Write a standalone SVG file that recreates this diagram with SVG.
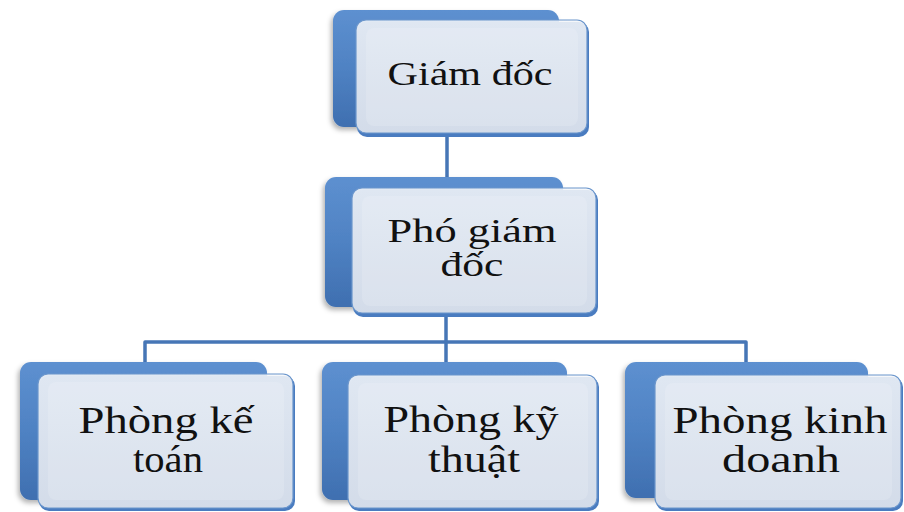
<svg xmlns="http://www.w3.org/2000/svg" width="904" height="512" viewBox="0 0 904 512">
<defs>
<linearGradient id="gBack" x1="0" y1="0" x2="0" y2="1">
<stop offset="0" stop-color="#5d90d0"/>
<stop offset="0.5" stop-color="#4f82c3"/>
<stop offset="1" stop-color="#3f6fb0"/>
</linearGradient>
<linearGradient id="gFront" x1="0" y1="0" x2="0" y2="1">
<stop offset="0" stop-color="#f4f6f9"/>
<stop offset="1" stop-color="#e6e9ef"/>
</linearGradient>
<filter id="sh" x="-10%" y="-10%" width="120%" height="125%">
<feDropShadow dx="-2" dy="3" stdDeviation="2.5" flood-color="#000" flood-opacity="0.3"/>
</filter>
</defs>
<style>
.back{fill:url(#gBack);filter:url(#sh)}
.edge{fill:#4a7cc0}
.front{fill:url(#gFront);fill-opacity:0.88;stroke:#6b96cc;stroke-width:1.2}
.gloss{fill:#ffffff;fill-opacity:0.15}
.t{font-family:"Liberation Serif","Times New Roman",serif;fill:#111;text-anchor:middle}
.con{fill:none;stroke:#4676b6;stroke-width:3.5;stroke-linejoin:round}
</style>
<g id="connectors">
<line class="con" x1="447" y1="134" x2="447" y2="190"/>
<line class="con" x1="446" y1="314" x2="446" y2="364"/>
<path class="con" d="M145,364 V342 H746 V364"/>
</g>
<g id="node-giam-doc">
<rect class="back" x="333" y="10" width="226" height="117" rx="11"/>
<rect class="edge" x="357" y="22" width="232" height="115" rx="10"/>
<rect class="front" x="356" y="20" width="231" height="113" rx="10"/>
<rect class="gloss" x="366" y="28" width="212" height="98" rx="8"/>
<text class="t" x="470" y="85" font-size="33" textLength="165" lengthAdjust="spacingAndGlyphs">Giám đốc</text>
</g>
<g id="node-pho-giam-doc">
<rect class="back" x="325" y="177" width="238" height="130" rx="11"/>
<rect class="edge" x="353" y="190" width="245" height="127" rx="10"/>
<rect class="front" x="352" y="188" width="244" height="125" rx="10"/>
<rect class="gloss" x="362" y="196" width="225" height="110" rx="8"/>
<text class="t" x="472" y="242" font-size="33" textLength="169" lengthAdjust="spacingAndGlyphs">Phó giám</text>
<text class="t" x="472" y="276" font-size="33" textLength="63" lengthAdjust="spacingAndGlyphs">đốc</text>
</g>
<g id="node-ke-toan">
<rect class="back" x="20" y="362" width="247" height="138" rx="11"/>
<rect class="edge" x="39" y="376" width="256" height="135" rx="10"/>
<rect class="front" x="38" y="374" width="255" height="134" rx="10"/>
<rect class="gloss" x="48" y="382" width="236" height="118" rx="8"/>
<text class="t" x="166" y="433" font-size="38" textLength="175" lengthAdjust="spacingAndGlyphs">Phòng kế</text>
<text class="t" x="168" y="472" font-size="38" textLength="70" lengthAdjust="spacingAndGlyphs">toán</text>
</g>
<g id="node-ky-thuat">
<rect class="back" x="322" y="362" width="245" height="138" rx="11"/>
<rect class="edge" x="349" y="377" width="250" height="134" rx="10"/>
<rect class="front" x="348" y="375" width="249" height="133" rx="10"/>
<rect class="gloss" x="358" y="383" width="230" height="117" rx="8"/>
<text class="t" x="471" y="432" font-size="38" textLength="175" lengthAdjust="spacingAndGlyphs">Phòng kỹ</text>
<text class="t" x="474" y="472" font-size="38" textLength="92" lengthAdjust="spacingAndGlyphs">thuật</text>
</g>
<g id="node-kinh-doanh">
<rect class="back" x="625" y="362" width="243" height="136" rx="11"/>
<rect class="edge" x="656" y="377" width="247" height="134" rx="10"/>
<rect class="front" x="655" y="375" width="246" height="133" rx="10"/>
<rect class="gloss" x="665" y="383" width="227" height="117" rx="8"/>
<text class="t" x="780" y="433" font-size="38" textLength="215" lengthAdjust="spacingAndGlyphs">Phòng kinh</text>
<text class="t" x="781" y="472" font-size="38" textLength="118" lengthAdjust="spacingAndGlyphs">doanh</text>
</g>
</svg>
